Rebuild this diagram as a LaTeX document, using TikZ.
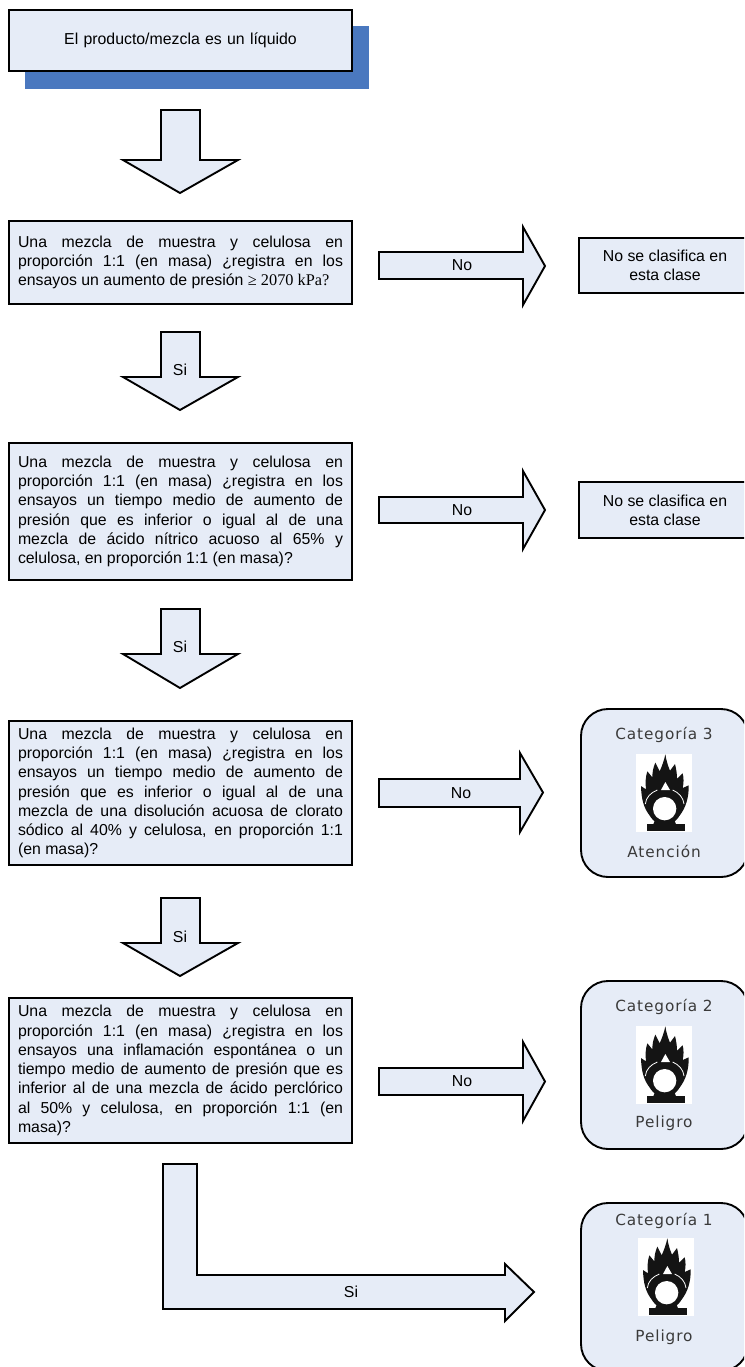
\documentclass[tikz,border=0pt]{standalone}
\usepackage{fontspec}
\setmainfont{Liberation Sans}
\newfontfamily\timesfont{Liberation Serif}
\newfontfamily\catfont[LetterSpace=6]{DejaVu Sans}
\definecolor{boxfill}{HTML}{E6ECF7}
\definecolor{shadowblue}{HTML}{4A78BF}
\definecolor{cattext}{HTML}{3A3A3A}
\tikzset{
  x=1pt,y=-1pt,
  outline/.style={draw=black,line width=1.9pt,fill=boxfill,miter limit=10},
  qbox/.style={outline,rectangle,inner sep=0pt,minimum width=343pt,text width=325pt,align=justify,font=\fontsize{15.85}{19.25}\selectfont},
  endbox/.style={outline,rectangle,inner sep=0pt,minimum width=172pt,minimum height=55.5pt,align=center,font=\fontsize{15.85}{19}\selectfont},
  catbox/.style={outline,rectangle,rounded corners=27pt,inner sep=0pt,minimum width=167pt,minimum height=168pt},
  lbl/.style={inner sep=0pt,font=\fontsize{15.85}{19}\selectfont},
  cattxt/.style={inner sep=0pt,text=cattext,font=\fontsize{15.3}{18}\catfont},
}
\newcommand{\downarrowshape}[3]{% top, neck, tip
  \draw[outline] (161,#1) -- (200,#1) -- (200,#2) -- (238,#2) -- (180,#3) -- (123,#2) -- (161,#2) -- cycle;}
\newcommand{\rightarrowshape}[7]{% x0, shaft top, shaft bottom, neck x, head top, head bottom, tip x
  \draw[outline] (#1,#2) -- (#4,#2) -- (#4,#5) -- (#7,{(#5+#6)/2}) -- (#4,#6) -- (#4,#3) -- (#1,#3) -- cycle;}
\newcommand{\flameicon}[2]{%
  \fill[white] (#1,#2) rectangle ++(56,78);
  \begin{scope}[shift={(#1-76,#2-54)},x=0.33333pt,y=-0.33333pt]
    % flame
    \fill[black!92] (272,350) .. controls (250,325) and (244,295) .. (243,258)
      -- (258,268) .. controls (256,250) and (256,232) .. (262,214)
      -- (277,232) .. controls (277,215) and (280,202) .. (286,188)
      -- (299,214) .. controls (306,198) and (312,182) .. (316,163)
      .. controls (319,182) and (324,198) .. (330,212)
      -- (345,192) .. controls (349,208) and (351,222) .. (351,236)
      -- (368,220) .. controls (372,235) and (371,250) .. (368,264)
      -- (386,256) .. controls (387,290) and (378,325) .. (356,350) -- cycle;
    % white gaps above the ring
    \fill[white] (316,246) -- (303,270) -- (330,270) -- cycle;
    \draw[white,line width=0.8pt] (256,312) .. controls (258,292) and (272,278) .. (292,270);
    \draw[white,line width=0.8pt] (372,312) .. controls (370,292) and (356,278) .. (338,270);
    % ring, stem and base
    \fill[black!92] (278,378) -- (288,352) -- (340,352) -- (350,378) -- cycle;
    \fill[black!92] (314,324) circle[radius=50];
    \fill[white] (314,326) circle[radius=35];
    \fill[black!92] (260,373) rectangle (375,393);
  \end{scope}}
\begin{document}
\begin{tikzpicture}
\useasboundingbox (0,0) rectangle (744,1367);
\clip (0,0) rectangle (744,1367);
\fill[white] (0,0) rectangle (744,1367);

% start box
\fill[shadowblue] (25,26) rectangle (369,89);
\node[qbox,minimum height=61pt,align=center] (start) at (180.5,40.5) {El producto/mezcla es un líquido};
\downarrowshape{110}{160}{193}

% question 1
\node[qbox,minimum height=83pt] (q1) at (180.5,262.5) {Una mezcla de muestra y celulosa en\linebreak
proporción 1:1 (en masa) ¿registra en los\linebreak
ensayos un aumento de presión {\timesfont\fontsize{16.3}{19}\selectfont ≥ 2070 kPa?}};
\rightarrowshape{379}{252}{279}{523}{227}{305}{545}
\node[lbl] (no1) at (462,265) {No};
\node[endbox] (end1) at (665,265.5) {No se clasifica en\\esta clase};

\downarrowshape{332}{377}{410}
\node[lbl] (si1) at (180,370) {Si};

% question 2
\node[qbox,minimum height=137pt] (q2) at (180.5,511.5) {Una mezcla de muestra y celulosa en\linebreak
proporción 1:1 (en masa) ¿registra en los\linebreak
ensayos un tiempo medio de aumento de\linebreak
presión que es inferior o igual al de una\linebreak
mezcla de ácido nítrico acuoso al 65\% y\linebreak
celulosa, en proporción 1:1 (en masa)?};
\rightarrowshape{379}{497}{523}{523}{471}{549}{545}
\node[lbl] (no2) at (462,510) {No};
\node[endbox] (end2) at (665,510) {No se clasifica en\\esta clase};

\downarrowshape{609}{654}{688}
\node[lbl] (si2) at (180,647) {Si};

% question 3
\node[qbox,minimum height=144pt] (q3) at (180.5,793) {Una mezcla de muestra y celulosa en\linebreak
proporción 1:1 (en masa) ¿registra en los\linebreak
ensayos un tiempo medio de aumento de\linebreak
presión que es inferior o igual al de una\linebreak
mezcla de una disolución acuosa de clorato\linebreak
sódico al 40\% y celulosa, en proporción 1:1\linebreak
(en masa)?};
\rightarrowshape{379}{779}{807}{520}{753}{832}{543}
\node[lbl] (no3) at (461,793) {No};
\node[catbox] (cat3) at (664.5,793) {};
\flameicon{636}{754}
\node[cattxt] (cat3t) at (664,735) {Categoría 3};
\node[cattxt] (cat3w) at (664,851) {Atención};

\downarrowshape{898}{943}{976}
\node[lbl] (si3) at (180,937) {Si};

% question 4
\node[qbox,minimum height=145pt] (q4) at (180.5,1070.5) {Una mezcla de muestra y celulosa en\linebreak
proporción 1:1 (en masa) ¿registra en los\linebreak
ensayos una inflamación espontánea o un\linebreak
tiempo medio de aumento de presión que es\linebreak
inferior al de una mezcla de ácido perclórico\linebreak
al 50\% y celulosa, en proporción 1:1 (en\linebreak
masa)?};
\rightarrowshape{379}{1068}{1095}{523}{1042}{1121}{545}
\node[lbl] (no4) at (462,1081) {No};
\node[catbox] (cat2) at (664.5,1065) {};
\flameicon{636}{1026}
\node[cattxt] (cat2t) at (664,1007) {Categoría 2};
\node[cattxt] (cat2w) at (664,1123) {Peligro};

% final L-shaped arrow
\draw[outline] (163,1164) -- (197,1164) -- (197,1275) -- (505,1275) -- (505,1264) -- (534,1292) -- (505,1321) -- (505,1309) -- (163,1309) -- cycle;
\node[lbl] (si4) at (351,1292) {Si};
\node[catbox] (cat1) at (664.5,1287) {};
\flameicon{638}{1238}
\node[cattxt] (cat1t) at (664,1221) {Categoría 1};
\node[cattxt] (cat1w) at (664,1337) {Peligro};
\end{tikzpicture}
\end{document}
